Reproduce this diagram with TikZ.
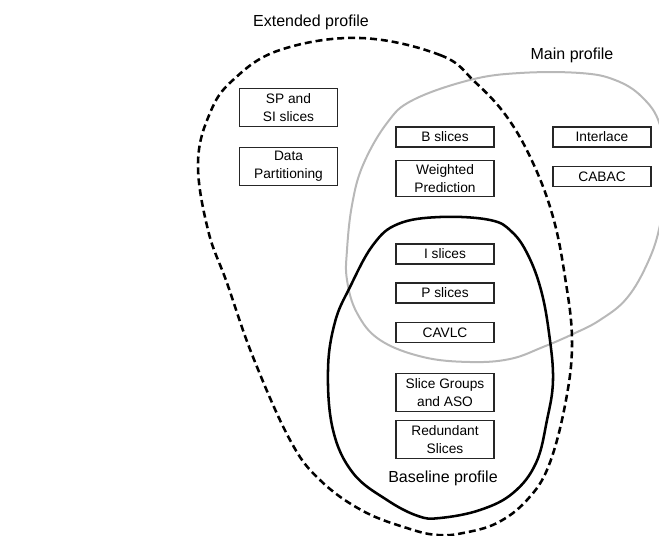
\documentclass[tikz,border=0pt]{standalone}
\usepackage{fontspec}
\setmainfont{Liberation Sans}
\begin{document}
\begin{tikzpicture}[x=0.75pt,y=-0.75pt,
  box/.style={draw=black!85, line width=0.9pt, minimum width=73.5pt, inner sep=0pt, align=center, font=\fontsize{10.3}{13.5}\selectfont},
  onebox/.style={box, minimum height=15pt},
  twobox/.style={box, minimum height=29pt},
  lbl/.style={font=\fontsize{12}{14}\selectfont},
  extp/.style={line width=1.9pt, dash pattern=on 5.2pt off 3pt},
  basep/.style={line width=1.9pt},
  mainp/.style={line width=1.5pt, draw=black!28}]
\useasboundingbox (0,0) rectangle (659,535);
\clip (0,0) rectangle (659,535);
% Main profile (gray)
\draw[mainp] plot[smooth cycle, tension=0.65] coordinates {
  (347,250) (352,205) (363,165) (387,123) (413,100) (470,80) (520,73) (580,73)
  (615,80) (642,97) (660,125) (667,175) (660,225) (648,262) (627,298) (600,320)
  (573,334) (543,347) (510,359) (470,362) (423,357) (380,340) (357,313) (347,280)};
% Extended profile (dashed)
\draw[extp] plot[smooth cycle, tension=0.65] coordinates {
  (360,38) (440,55) (475,82) (507,117) (533,163) (553,217) (565,277) (572,340)
  (566,400) (549,465) (527,500) (497,523) (463,533) (438,535) (410,529) (363,511)
  (320,480) (290,440) (253,357) (227,283) (208,230) (198,163) (210,113) (233,80) (280,50)};
% Baseline profile (solid)
\draw[basep] plot[smooth cycle, tension=0.65] coordinates {
  (440,217) (490,220) (512,232) (528,255) (541,290) (549,333) (553,380)
  (547,420) (536,463) (513,493) (480,510) (440,518) (418,516) (387,500) (353,473)
  (333,430) (328,370) (335,322) (350,287) (373,245) (398,224)};
% labels
\node[lbl] (extl) at (311,22) {Extended profile};
\node[lbl] (mainl) at (572,55) {Main profile};
\node[lbl] (basel) at (443,478) {Baseline profile};
% boxes
\node[twobox] (sp) at (288.5,107.5) {SP and\\SI slices};
\node[twobox] (dp) at (288.5,166.5) {Data\\Partitioning};
\node[onebox] (bs) at (445,137) {B slices};
\node[twobox, minimum height=27.5pt] (wp) at (445,178.5) {Weighted\\Prediction};
\node[onebox] (il) at (602,137) {Interlace};
\node[onebox, minimum height=14.5pt] (cb) at (602,176.5) {CABAC};
\node[onebox] (is) at (445,254) {I slices};
\node[onebox] (ps) at (445,293) {P slices};
\node[onebox] (cv) at (445,332.5) {CAVLC};
\node[twobox] (sg) at (445,392.5) {Slice Groups\\and ASO};
\node[twobox] (rs) at (445,439.5) {Redundant\\Slices};
\end{tikzpicture}
\end{document}
